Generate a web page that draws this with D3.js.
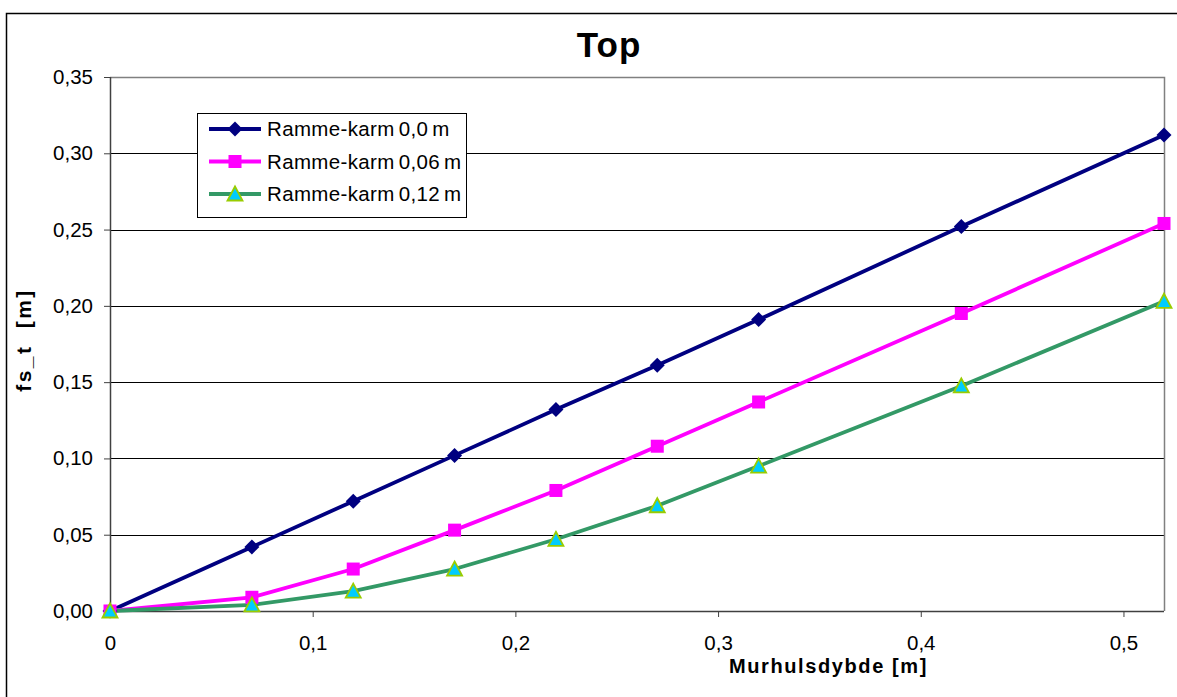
<!DOCTYPE html>
<html><head><meta charset="utf-8">
<script src="https://cdn.jsdelivr.net/npm/d3@7"></script>
<style>body{margin:0;background:#fff}svg{display:block}text{font-family:"Liberation Sans",Arial,sans-serif}</style>
</head><body>
<script>
const xValues = [0, 0.07, 0.12, 0.17, 0.22, 0.27, 0.32, 0.42, 0.52];
const series0 = [0, 0.042, 0.072, 0.102, 0.132, 0.161, 0.191, 0.252, 0.312];
const series06 = [0, 0.009, 0.0275, 0.053, 0.079, 0.108, 0.137, 0.195, 0.254];
const series12 = [0, 0.004, 0.013, 0.0275, 0.047, 0.069, 0.095, 0.1475, 0.203];
const seriesNames = ["Ramme-karm 0,0 m", "Ramme-karm 0,06 m", "Ramme-karm 0,12 m"];
const yTicks = [0, 0.05, 0.10, 0.15, 0.20, 0.25, 0.30, 0.35];
const xTicks = [0, 0.1, 0.2, 0.3, 0.4, 0.5];

const W = 1177, H = 697;
const svg = d3.select("body").append("svg").attr("width", W).attr("height", H);
svg.append("rect").attr("x", 6.5).attr("y", 13.5).attr("width", 1200).attr("height", 700)
  .attr("fill", "#fff").attr("stroke", "#000").attr("stroke-width", 1.5);

const L = 110, R = 1164, T = 77, B = 611;
const x = d3.scaleLinear().domain([0, 0.52]).range([L, R]);
const y = d3.scaleLinear().domain([0, 0.35]).range([B, T]);

// gridlines
svg.append("g").selectAll("line").data(yTicks.slice(1, -1)).join("line")
  .attr("x1", L).attr("x2", R).attr("y1", d => Math.round(y(d)) + 0.5).attr("y2", d => Math.round(y(d)) + 0.5)
  .attr("stroke", "#000").attr("stroke-width", 1);

// plot border
svg.append("path").attr("d", `M${L},${T+0.5}H${R+0.5}V${B}`).attr("fill", "none").attr("stroke", "#808080").attr("stroke-width", 1.5);

const fmtY = d => d3.format(".2f")(d).replace(".", ",");
const fmtX = d => d === 0 ? "0" : d3.format(".1f")(d).replace(".", ",");

const yAxis = svg.append("g").attr("transform", `translate(${L},0)`)
  .call(d3.axisLeft(y).tickValues(yTicks).tickFormat(fmtY).tickSize(6).tickPadding(11));
const xAxis = svg.append("g").attr("transform", `translate(0,${B})`)
  .call(d3.axisBottom(x).tickValues(xTicks).tickFormat(fmtX).tickSize(6).tickPadding(18));
[yAxis, xAxis].forEach(a => {
  a.select(".domain").attr("stroke", "#404040").attr("stroke-width", 1.5);
  a.selectAll(".tick line").attr("stroke", "#404040");
  a.selectAll(".tick text").attr("font-size", 20.5).attr("fill", "#000").attr("font-family", "Liberation Sans, Arial, sans-serif");
});
xAxis.select(".domain").attr("d", `M${L},0.5H${R}`);
yAxis.select(".domain").attr("d", `M0.5,${T}V${B}`);

const colors = ["#000080", "#FF00FF", "#339966"];
const all = [series0, series06, series12];
const line = d3.line().x((d, i) => x(xValues[i])).y(d => y(d));

all.forEach((s, k) => {
  svg.append("path").datum(s).attr("d", line).attr("fill", "none")
    .attr("stroke", colors[k]).attr("stroke-width", 3.8).attr("stroke-linejoin", "round");
});

function marker(g, k, cx, cy) {
  if (k === 0) {
    g.append("path").attr("d", `M${cx},${cy-7.5}L${cx+7.5},${cy}L${cx},${cy+7.5}L${cx-7.5},${cy}Z`).attr("fill", "#000080");
  } else if (k === 1) {
    g.append("rect").attr("x", cx - 6.5).attr("y", cy - 6.5).attr("width", 13).attr("height", 13).attr("fill", "#FF00FF");
  } else {
    g.append("path").attr("d", `M${cx},${cy-7.5}L${cx+7.5},${cy+6.5}L${cx-7.5},${cy+6.5}Z`)
      .attr("fill", "#00CCFF").attr("stroke", "#99CC00").attr("stroke-width", 1.8);
  }
}
const mg = svg.append("g");
all.forEach((s, k) => s.forEach((v, i) => marker(mg, k, x(xValues[i]), y(v))));

// legend
const lg = svg.append("g");
lg.append("rect").attr("x", 197.5).attr("y", 113.5).attr("width", 269).attr("height", 104)
  .attr("fill", "#fff").attr("stroke", "#000").attr("stroke-width", 1);
seriesNames.forEach((n, k) => {
  const yy = 129 + k * 32.5;
  lg.append("line").attr("x1", 209).attr("x2", 261).attr("y1", yy).attr("y2", yy).attr("stroke", colors[k]).attr("stroke-width", 3.8);
  marker(lg, k, 235, yy);
  lg.append("text").attr("x", 267).attr("y", yy + 7).attr("font-size", 20.5).attr("letter-spacing", 0.35).attr("word-spacing", -2).text(n);
});

// titles
svg.append("text").attr("x", 609).attr("y", 57).attr("text-anchor", "middle").attr("font-size", 35).attr("font-weight", "bold").attr("letter-spacing", 1).text("Top");
svg.append("text").attr("x", 828.5).attr("y", 673).attr("text-anchor", "middle").attr("font-size", 20).attr("font-weight", "bold").attr("letter-spacing", 1.6).text("Murhulsdybde [m]");
svg.append("text").attr("transform", "translate(31,340) rotate(-90)").attr("text-anchor", "middle").attr("font-size", 21).attr("font-weight", "bold").attr("letter-spacing", 2.4).style("white-space", "pre").text("fs_t  [m]");
</script>
</body></html>
